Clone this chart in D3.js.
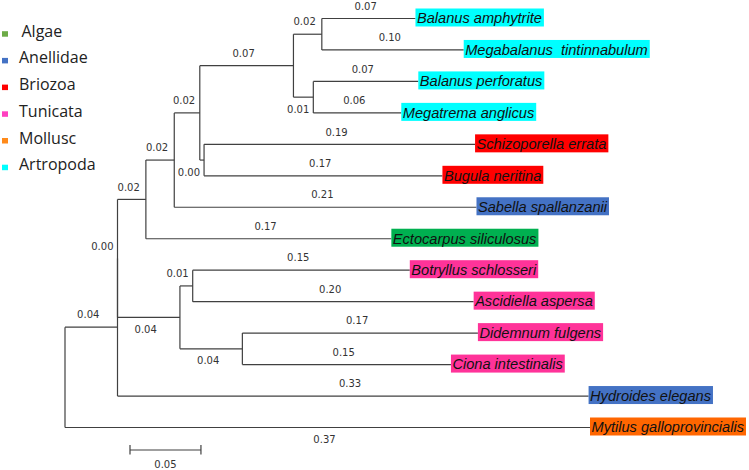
<!DOCTYPE html>
<html><head><meta charset="utf-8">
<script src="https://cdn.jsdelivr.net/npm/d3@7"></script>
<style>body{margin:0;background:#fff} svg{display:block}</style>
</head><body><svg id="c" width="749" height="470"></svg>
<script>
// Legend groups
const groups = ["Algae", "Anellidae", "Briozoa", "Tunicata", "Mollusc", "Artropoda"];
const legendColors = ["#6dab47", "#4472c4", "#ff0000", "#ff40c0", "#ff8a1a", "#00ffff"];
const boxColors = ["#00b050", "#4472c4", "#ff0000", "#ff3399", "#ff6600", "#00ffff"];

// Tree: node names, parent names, branch lengths (substitutions per site)
const nodeNames = ["root", "A", "Mytilus galloprovincialis", "B", "Hydroides elegans", "C", "T",
  "D", "Ectocarpus siliculosus", "E", "Sabella spallanzanii", "F", "G", "H", "I",
  "Balanus amphytrite", "Megabalanus  tintinnabulum", "Balanus perforatus", "Megatrema anglicus",
  "Schizoporella errata", "Bugula neritina", "J", "K",
  "Botryllus schlosseri", "Ascidiella aspersa", "Didemnum fulgens", "Ciona intestinalis"];
const nodeParents = ["", "root", "root", "A", "A", "B", "B",
  "C", "C", "D", "D", "E", "E", "F", "F",
  "H", "H", "I", "I",
  "G", "G", "T", "T",
  "J", "J", "K", "K"];
const branchLengths = [0, 0.037, 0.37, 0.000, 0.332, 0.020, 0.044,
  0.020, 0.173, 0.018, 0.213, 0.066, 0.003, 0.020, 0.014,
  0.066, 0.100, 0.074, 0.062,
  0.191, 0.168, 0.009, 0.044,
  0.153, 0.198, 0.166, 0.147];

// Leaf group membership
const leafTaxa = ["Balanus amphytrite", "Megabalanus  tintinnabulum", "Balanus perforatus", "Megatrema anglicus",
  "Schizoporella errata", "Bugula neritina", "Sabella spallanzanii", "Ectocarpus siliculosus",
  "Botryllus schlosseri", "Ascidiella aspersa", "Didemnum fulgens", "Ciona intestinalis",
  "Hydroides elegans", "Mytilus galloprovincialis"];
const leafGroups = ["Artropoda", "Artropoda", "Artropoda", "Artropoda",
  "Briozoa", "Briozoa", "Anellidae", "Algae",
  "Tunicata", "Tunicata", "Tunicata", "Tunicata",
  "Anellidae", "Mollusc"];
// branches whose length label sits below the branch
const labelsBelow = ["I", "G", "T", "K", "Mytilus galloprovincialis"];
const scaleBarValue = 0.05;

const svg = d3.select("#c");
const rows = nodeNames.map((n, i) => ({ id: n, parent: nodeParents[i] || null, len: branchLengths[i] }));
const root = d3.stratify().id(d => d.id).parentId(d => d.parent)(rows);
root.each(n => { n.dist = n.parent ? n.parent.dist + n.data.len : 0; });

const x = d3.scaleLinear().domain([0, 0.37]).range([65, 590]);
const leaves = root.leaves();
const y = d3.scalePoint().domain(leaves.map(d => d.id)).range([18.5, 427.5]);
root.eachAfter(n => {
  if (!n.children) n.py = y(n.id);
  else n.py = (n.children[0].py + n.children[n.children.length - 1].py) / 2;
  n.px = x(n.dist);
});

const lineColor = "#404040";
const g = svg.append("g");
// verticals
root.descendants().filter(n => n.children).forEach(n => {
  g.append("line").attr("x1", n.px).attr("x2", n.px)
    .attr("y1", n.children[0].py).attr("y2", n.children[n.children.length - 1].py)
    .attr("stroke", lineColor).attr("stroke-width", 1.2);
});
// horizontals
root.descendants().filter(n => n.parent).forEach(n => {
  g.append("line").attr("x1", n.parent.px).attr("x2", n.px)
    .attr("y1", n.py).attr("y2", n.py)
    .attr("stroke", lineColor).attr("stroke-width", 1.2);
});
// branch length labels
root.descendants().filter(n => n.parent).forEach(n => {
  const below = labelsBelow.includes(n.id);
  const t = g.append("text").text(n.data.len.toFixed(2))
    .attr("font-family", "DejaVu Sans, Verdana, sans-serif").attr("font-size", 10)
    .attr("fill", "#333").attr("text-anchor", "middle");
  const w = t.node().getComputedTextLength();
  const mid = (n.parent.px + n.px) / 2 - 3;
  const cx = Math.min(mid, n.px - 4 - w / 2);
  t.attr("x", cx).attr("y", below ? n.py + 15.5 : n.py - 8.8);
});
// leaf labels
leaves.forEach(n => {
  const grp = leafGroups[leafTaxa.indexOf(n.id)];
  const col = boxColors[groups.indexOf(grp)];
  const lg = g.append("g");
  const rect = lg.append("rect");
  const t = lg.append("text").text(n.id)
    .attr("x", n.px + 1.5).attr("y", n.py + 4.8)
    .attr("font-family", "Liberation Sans, Arial, sans-serif").attr("font-style", "italic")
    .attr("font-size", 14.6).attr("fill", "#111").style("white-space", "pre");
  const w = t.node().getComputedTextLength();
  rect.attr("x", n.px).attr("y", n.py - 10).attr("width", w + 3.5).attr("height", 18).attr("fill", col);
});
// scale bar
const sb0 = 130, sb1 = sb0 + (x(scaleBarValue) - x(0)), sby = 450;
g.append("line").attr("x1", sb0).attr("x2", sb1).attr("y1", sby).attr("y2", sby).attr("stroke", lineColor).attr("stroke-width", 1.2);
[sb0, sb1].forEach(v => g.append("line").attr("x1", v).attr("x2", v).attr("y1", sby - 5).attr("y2", sby + 4.5).attr("stroke", lineColor).attr("stroke-width", 1.2));
g.append("text").text(scaleBarValue.toFixed(2)).attr("x", (sb0 + sb1) / 2).attr("y", 467.5)
  .attr("text-anchor", "middle").attr("font-family", "DejaVu Sans, Verdana, sans-serif").attr("font-size", 10).attr("fill", "#333");

// legend
const leg = svg.append("g");
groups.forEach((name, i) => {
  const by = 36.7 + i * 26.7;
  leg.append("rect").attr("x", 2).attr("y", by - 5.5).attr("width", 6).attr("height", 5.5).attr("fill", legendColors[i]);
  leg.append("text").text(name).attr("x", i === 0 ? 21.5 : 19).attr("y", by)
    .attr("font-family", "Open Sans, sans-serif").attr("font-size", 16).attr("fill", "#222");
});
</script></body></html>
